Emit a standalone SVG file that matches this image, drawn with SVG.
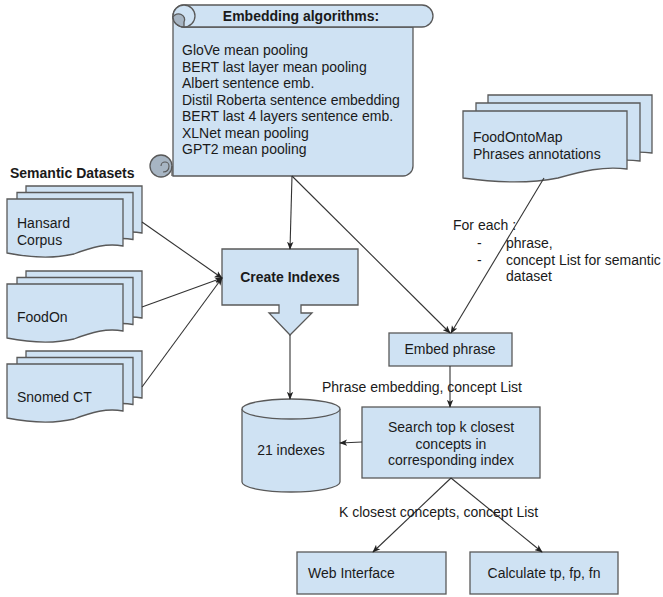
<svg xmlns="http://www.w3.org/2000/svg" width="663" height="597" viewBox="0 0 663 597">
<style>
.sh{fill:#cfe2f3;stroke:#595959;stroke-width:1.3}
.curl{fill:#a7b5c3;stroke:#595959;stroke-width:1.3}
.t{font-family:"Liberation Sans",Arial,sans-serif;font-size:14px;fill:#1a1a1a}
.b{font-weight:bold}
.m{text-anchor:middle}
.c{fill:none;stroke:#333;stroke-width:1.1}
</style>
<defs>
<marker id="ah" viewBox="0 0 10 8" refX="9" refY="4" markerWidth="8" markerHeight="7" markerUnits="userSpaceOnUse" orient="auto">
<path d="M0,0 L10,4 L0,8 L2.5,4 Z" fill="#222"/>
</marker>
<path id="doc" d="M0,0 H116 V47 C100,44 85,48 67,55 C50,59 25,59 0,54 Z"/>
<path id="doc2" d="M0,0 H164 V58 C140,55 120,60 95,67 C70,72 35,72 0,67 Z"/>
</defs>
<rect width="663" height="597" fill="#fff"/>

<g id="scroll">
<path class="sh" d="M173,16 L173,176 H403 A10,10 0 0 0 413,166 V27 H184"/>
<path class="sh" d="M184,5 H422 A11,11 0 0 1 422,27 H184 A11,11 0 0 1 184,5 Z"/>
<circle class="sh" cx="184" cy="16" r="11"/>
<path class="curl" d="M173,17 A11,10 0 0 0 184,27 L184,22 A5.5,5 0 0 0 173,17 Z"/>
<circle class="curl" cx="161" cy="166" r="11"/>
<path d="M161,166 A4,4 0 0 1 169,166 Q169,172 163,172" fill="none" stroke="#595959" stroke-width="1.1"/>
<path d="M172,166 V176" fill="none" stroke="#595959" stroke-width="1.3"/>
<text class="t b m" x="301" y="21">Embedding algorithms:</text>
<text class="t" x="182" y="55">GloVe mean pooling</text>
<text class="t" x="182" y="71.5">BERT last layer mean pooling</text>
<text class="t" x="182" y="88">Albert sentence emb.</text>
<text class="t" x="182" y="104.5">Distil Roberta sentence embedding</text>
<text class="t" x="182" y="121">BERT last 4 layers sentence emb.</text>
<text class="t" x="182" y="137.5">XLNet mean pooling</text>
<text class="t" x="182" y="154">GPT2 mean pooling</text>
</g>

<text class="t b" x="10" y="178">Semantic Datasets</text>

<g id="hansard">
<use href="#doc" class="sh" x="26" y="186"/>
<use href="#doc" class="sh" x="17" y="192.5"/>
<use href="#doc" class="sh" x="7" y="199"/>
<text class="t" x="17" y="228">Hansard</text>
<text class="t" x="17" y="245">Corpus</text>
</g>

<g id="foodon">
<use href="#doc" class="sh" x="26" y="271"/>
<use href="#doc" class="sh" x="17" y="277.5"/>
<use href="#doc" class="sh" x="7" y="284"/>
<text class="t" x="17" y="322">FoodOn</text>
</g>

<g id="snomed">
<use href="#doc" class="sh" x="26" y="351"/>
<use href="#doc" class="sh" x="17" y="357.5"/>
<use href="#doc" class="sh" x="7" y="364"/>
<text class="t" x="17" y="402">Snomed CT</text>
</g>

<g id="foodontomap">
<use href="#doc2" class="sh" x="488" y="95"/>
<use href="#doc2" class="sh" x="476" y="103"/>
<use href="#doc2" class="sh" x="463" y="111"/>
<text class="t" x="473" y="142">FoodOntoMap</text>
<text class="t" x="473" y="159">Phrases annotations</text>
</g>

<g id="create">
<path class="sh" d="M222,249 H358 V305 H301 V313 H312 L290,335 L269,313 H279 V305 H222 Z"/>
<text class="t b m" x="290" y="282">Create Indexes</text>
</g>

<g id="indexes">
<path class="sh" d="M242,409 V482 A49,10 0 0 0 340,482 V409"/>
<ellipse class="sh" cx="291" cy="409" rx="49" ry="10" style="fill:#d9e8f5"/>
<text class="t m" x="291" y="455">21 indexes</text>
</g>

<g id="embed">
<rect class="sh" x="389" y="333" width="123" height="33"/>
<text class="t m" x="450" y="354">Embed phrase</text>
</g>

<g id="search">
<rect class="sh" x="362" y="407" width="178" height="71"/>
<text class="t m" x="451" y="432">Search top k closest</text>
<text class="t m" x="451" y="448.5">concepts in</text>
<text class="t m" x="451" y="465">corresponding index</text>
</g>

<g id="web">
<rect class="sh" x="297" y="552" width="149" height="42"/>
<text class="t" x="308" y="578">Web Interface</text>
</g>

<g id="calc">
<rect class="sh" x="470" y="552" width="148" height="42"/>
<text class="t m" x="544" y="578">Calculate tp, fp, fn</text>
</g>

<g id="connectors">
<path class="c" d="M292,176 L290,249" marker-end="url(#ah)"/>
<path class="c" d="M292,176 L450,333" marker-end="url(#ah)"/>
<path class="c" d="M544,178 L451,333" marker-end="url(#ah)"/>
<path class="c" d="M142,222 L222,278" marker-end="url(#ah)"/>
<path class="c" d="M142,307 L222,278" marker-end="url(#ah)"/>
<path class="c" d="M142,387 L222,278" marker-end="url(#ah)"/>
<path class="c" d="M290,335 L290,399" marker-end="url(#ah)"/>
<path class="c" d="M450,366 L450,407" marker-end="url(#ah)"/>
<path class="c" d="M362,442 L340,443" marker-end="url(#ah)"/>
<path class="c" d="M451,478 L373,552" marker-end="url(#ah)"/>
<path class="c" d="M451,478 L542,552" marker-end="url(#ah)"/>
<text class="t" x="453" y="230">For each :</text>
<text class="t" x="477" y="248">-</text>
<text class="t" x="506" y="248">phrase,</text>
<text class="t" x="477" y="265">-</text>
<text class="t" x="506" y="265">concept List for semantic</text>
<text class="t" x="506" y="281">dataset</text>
<text class="t" x="322" y="392">Phrase embedding, concept List</text>
<text class="t" x="339" y="517">K closest concepts, concept List</text>
</g>
</svg>
